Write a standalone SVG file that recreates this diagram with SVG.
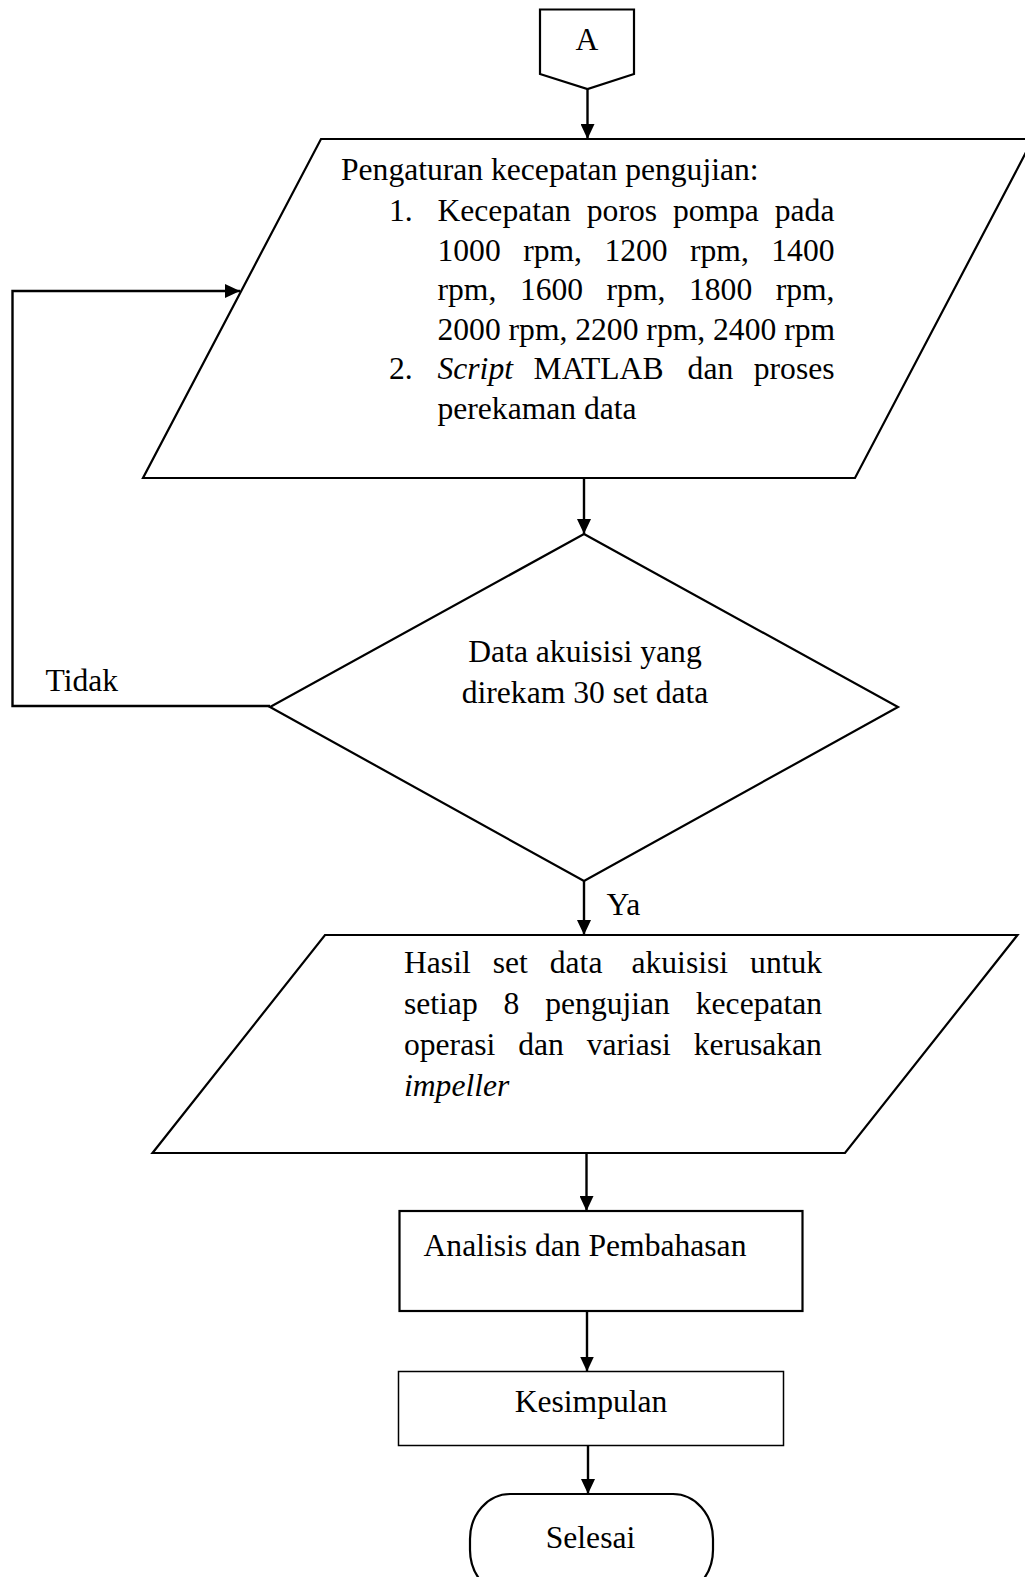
<svg xmlns="http://www.w3.org/2000/svg" width="1025" height="1577" viewBox="0 0 1025 1577">
<style>
.shape{fill:#fff;stroke:#000;stroke-width:2.2;stroke-linejoin:miter}
.thin{fill:#fff;stroke:#000;stroke-width:1.5}
.conn{fill:none;stroke:#000;stroke-width:2.4}
text{font-family:"Liberation Serif","Times New Roman",serif;font-size:31.6px;fill:#000}
.c{text-anchor:middle}
.i{font-style:italic}
</style>
<defs>
<marker id="ah" markerUnits="userSpaceOnUse" markerWidth="15" markerHeight="14" refX="15" refY="7" orient="auto">
<path d="M0,0 L15,7 L0,14 Z" fill="#000"/>
</marker>
</defs>
<rect width="1025" height="1577" fill="#fff"/>

<g id="connectors">
<line class="conn" x1="587.5" y1="89" x2="587.5" y2="139" marker-end="url(#ah)"/>
<line class="conn" x1="584" y1="478" x2="584" y2="534" marker-end="url(#ah)"/>
<line class="conn" x1="584" y1="881" x2="584" y2="935" marker-end="url(#ah)"/>
<line class="conn" x1="586.5" y1="1153" x2="586.5" y2="1211" marker-end="url(#ah)"/>
<line class="conn" x1="587" y1="1311" x2="587" y2="1371.5" marker-end="url(#ah)"/>
<line class="conn" x1="588" y1="1446" x2="588" y2="1494" marker-end="url(#ah)"/>
<polyline class="conn" points="270,706 12.5,706 12.5,291 240,291" marker-end="url(#ah)"/>
<text x="45.5" y="690.5">Tidak</text>
<text x="606.5" y="915">Ya</text>
</g>

<g id="node-A">
<polygon class="shape" points="540,9.5 634,9.5 634,74 587.5,89 540,74"/>
<text class="c" x="587" y="49.5">A</text>
</g>

<g id="node-pengaturan">
<polygon class="shape" points="321,139 1033,139 855,478 143,478"/>
<text x="341" y="179.5">Pengaturan kecepatan pengujian:</text>
<text x="389" y="221">1.</text>
<text y="221"><tspan x="437.5">Kecepatan</tspan><tspan x="586.8">poros</tspan><tspan x="672.9">pompa</tspan><tspan x="774.8">pada</tspan></text>
<text y="260.5"><tspan x="437.5">1000</tspan><tspan x="523.2">rpm,</tspan><tspan x="604.4">1200</tspan><tspan x="690">rpm,</tspan><tspan x="771.3">1400</tspan></text>
<text y="300"><tspan x="437.5">rpm,</tspan><tspan x="519.9">1600</tspan><tspan x="606.6">rpm,</tspan><tspan x="689">1800</tspan><tspan x="775.7">rpm,</tspan></text>
<text x="437.5" y="339.5">2000 rpm, 2200 rpm, 2400 rpm</text>
<text x="389" y="379">2.</text>
<text y="379"><tspan x="437.5" class="i">Script</tspan><tspan x="533.6">MATLAB</tspan><tspan x="687.6">dan</tspan><tspan x="753.8">proses</tspan></text>
<text x="437.5" y="418.5">perekaman data</text>
</g>

<g id="node-decision">
<polygon class="shape" points="584,534 898,707 584,881 270,707"/>
<text class="c" x="585" y="662">Data akuisisi yang</text>
<text class="c" x="585" y="703">direkam 30 set data</text>
</g>

<g id="node-hasil">
<polygon class="shape" points="325,935 1017.5,935 845,1153 152.5,1153"/>
<text y="972.5"><tspan x="404">Hasil</tspan><tspan x="492.7">set</tspan><tspan x="549.8">data</tspan><tspan x="631.5">akuisisi</tspan><tspan x="750.1">untuk</tspan></text>
<text y="1013.5"><tspan x="404">setiap</tspan><tspan x="503.6">8</tspan><tspan x="545.3">pengujian</tspan><tspan x="695.8">kecepatan</tspan></text>
<text y="1054.5"><tspan x="404">operasi</tspan><tspan x="518.2">dan</tspan><tspan x="586.7">variasi</tspan><tspan x="693.8">kerusakan</tspan></text>
<text class="i" x="404" y="1095.5">impeller</text>
</g>

<g id="node-analisis">
<rect class="shape" x="399.5" y="1211" width="403" height="100"/>
<text class="c" x="585" y="1256">Analisis dan Pembahasan</text>
</g>

<g id="node-kesimpulan">
<rect class="thin" x="398.5" y="1371.5" width="385" height="74"/>
<text class="c" x="591" y="1411.5">Kesimpulan</text>
</g>

<g id="node-selesai">
<rect class="shape" x="470" y="1494" width="243" height="101" rx="40" ry="45"/>
<text class="c" x="590.5" y="1547.5">Selesai</text>
</g>
</svg>
